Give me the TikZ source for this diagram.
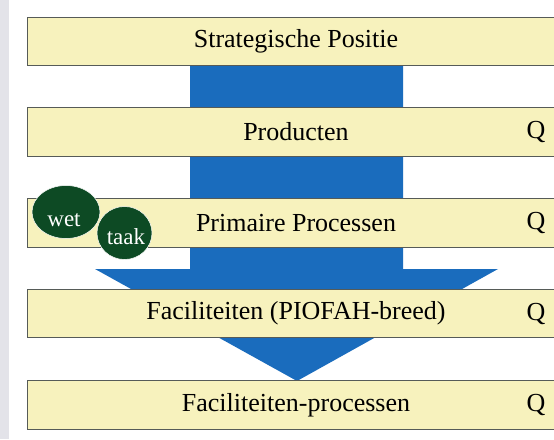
\documentclass[tikz,border=0pt]{standalone}
\usepackage{fontspec}
\setmainfont{Liberation Serif}
\usetikzlibrary{shapes.geometric}
\definecolor{baryellow}{HTML}{F7F2BD}
\definecolor{bardraw}{HTML}{565B58}
\definecolor{arrowblue}{HTML}{1A6CBD}
\definecolor{leafgreen}{HTML}{0D4A24}
\definecolor{stripgray}{HTML}{E3E3E9}

\begin{document}
\begin{tikzpicture}[x=1pt,y=-1pt,
      mybar/.style={
         rectangle,
         draw=bardraw,
         line width=0.9pt,
         fill=baryellow,
         anchor=west,
         inner sep=0pt,
         minimum width=560pt,
         minimum height=48.5pt},
      mylabel/.style={inner sep=0pt, font=\fontsize{26}{30}\selectfont},
      myblob/.style={
         ellipse,
         fill=leafgreen,
         draw=white,
         line width=0.5pt,
         inner sep=0pt},
      blobtext/.style={inner sep=0pt, text=white, font=\fontsize{23}{26}\selectfont}
      ]
      \useasboundingbox (0,0) rectangle (554,439);
      \fill[white] (0,0) rectangle (554,439);
      \fill[stripgray] (0,0) rectangle (9,439);

      % big arrow, behind the bars
      \fill[arrowblue] (190,60) -- (190,269) -- (95,269) -- (297,381)
         -- (498,269) -- (403,269) -- (403,60) -- cycle;

    \foreach \n/\y/\txt in {% name/middle/text
      sp/41.5/Strategische Positie,
      pr/132/Producten,
      pp/223/Primaire Processen,
      fa/313.5/Faciliteiten (PIOFAH-breed),
      fp/405/Faciliteiten-processen}
      {\node[mybar] (\n) at (27,\y) {};
       \node[mylabel] (\n-t) at (296,\y) {\txt};}

    \foreach \n in {pr,pp,fa,fp}
       \node[mylabel] (\n-q) at ([xshift=509pt]\n.west) {Q};

      \node[myblob, minimum width=68pt, minimum height=53pt] (wet) at (66,212) {};
      \node[myblob, minimum width=55pt, minimum height=53pt] (taak) at (124.5,233) {};
      \node[blobtext] (wet-t) at (64,220) {wet};
      \node[blobtext] (taak-t) at (126,237) {taak};

    \end{tikzpicture}
\end{document}
